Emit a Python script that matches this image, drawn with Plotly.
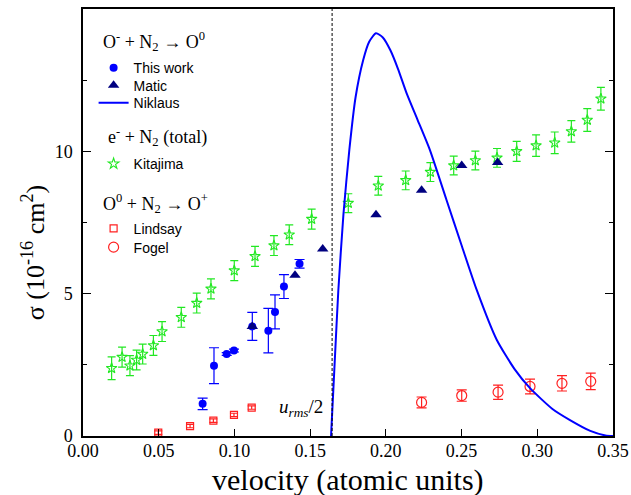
import plotly.graph_objects as go

# ---------------- data ----------------
kit_x = [0.0189, 0.0258, 0.031, 0.0354, 0.0394, 0.0465, 0.0522, 0.0649, 0.0751, 0.0845,
         0.0999, 0.1136, 0.1261, 0.1362, 0.151, 0.1752, 0.195, 0.2131, 0.2294, 0.2448,
         0.2591, 0.2734, 0.2864, 0.2992, 0.3115, 0.3225, 0.333, 0.342]
kit_y = [2.38, 2.77, 2.47, 2.67, 2.88, 3.18, 3.67, 4.17, 4.67, 5.17,
         5.81, 6.31, 6.69, 7.07, 7.62, 8.18, 8.79, 8.98, 9.27, 9.50,
         9.68, 9.77, 10.0, 10.2, 10.3, 10.7, 11.1, 11.85]
kit_err = [0.4, 0.35, 0.35, 0.35, 0.35, 0.35, 0.35, 0.35, 0.35, 0.35,
           0.35, 0.35, 0.35, 0.35, 0.35, 0.33, 0.33, 0.33, 0.33, 0.33,
           0.33, 0.33, 0.35, 0.38, 0.38, 0.38, 0.4, 0.4]

work_x = [0.0790, 0.0865, 0.0949, 0.0997, 0.1118, 0.1224, 0.1268, 0.1327, 0.1430]
work_y = [1.13, 2.47, 2.88, 3.00, 3.85, 3.70, 4.36, 5.25, 6.05]
work_err = [0.2, 0.63, 0.05, 0.05, 0.49, 0.78, 0.6, 0.42, 0.15]

matic_x = [0.1118, 0.1400, 0.1583, 0.1935, 0.2236, 0.2501, 0.2738]
matic_y = [3.85, 5.65, 6.57, 7.77, 8.63, 9.50, 9.61]

nik_x = [0.1638, 0.1665, 0.1686, 0.172, 0.1759, 0.180, 0.185, 0.189, 0.1935, 0.198,
         0.203, 0.208, 0.214, 0.221, 0.229, 0.240, 0.250, 0.260, 0.2732, 0.285,
         0.2952, 0.310, 0.3216, 0.335, 0.345, 0.350]
nik_y = [0.0, 2.9, 5.1, 7.8, 10.06, 11.9, 13.2, 13.85, 14.15, 14.0,
         13.55, 12.9, 12.0, 11.1, 10.06, 8.3, 6.7, 5.13, 3.38, 2.35,
         1.68, 0.95, 0.56, 0.18, 0.02, 0.0]

lind_x = [0.0497, 0.0707, 0.0861, 0.0997, 0.1114]
lind_y = [0.12, 0.35, 0.54, 0.74, 1.00]
lind_err = [0.06, 0.06, 0.06, 0.06, 0.06]

fog_x = [0.2236, 0.2501, 0.2741, 0.2952, 0.3163, 0.3353]
fog_y = [1.18, 1.42, 1.54, 1.74, 1.85, 1.92]
fog_err = [0.19, 0.2, 0.25, 0.26, 0.27, 0.29]

urms_half = 0.1645
x_ticks = [0.00, 0.05, 0.10, 0.15, 0.20, 0.25, 0.30, 0.35]
y_ticks = [0, 5, 10]
y_minor = [2.5, 7.5, 12.5]

group_titles = ["O<sup>-</sup> + N<sub>2</sub> → O<sup>0</sup>",
                "e<sup>-</sup> + N<sub>2</sub> (total)",
                "O<sup>0</sup> + N<sub>2</sub> → O<sup>+</sup>"]

SERIF = "Liberation Serif"
SANS = "Liberation Sans"
GREEN = "#22e822"
BLUE = "#0000ff"
NAVY = "#000080"
RED = "#ff2020"

fig = go.Figure()

fig.add_trace(go.Scatter(
    x=kit_x, y=kit_y, mode="markers", name="Kitajima", legend="legend4",
    marker=dict(symbol="star-open", size=8, color=GREEN, line=dict(width=1.1, color=GREEN)),
    error_y=dict(type="data", array=kit_err, color=GREEN, thickness=1.2, width=4)))

fig.add_trace(go.Scatter(
    x=lind_x, y=lind_y, mode="markers", name="Lindsay", legend="legend5",
    marker=dict(symbol="square-open", size=7, color=RED, line=dict(width=1.2, color=RED)),
    error_y=dict(type="data", array=lind_err, color=RED, thickness=1.2, width=4)))

fig.add_trace(go.Scatter(
    x=fog_x, y=fog_y, mode="markers", name="Fogel", legend="legend6",
    marker=dict(symbol="circle-open", size=10, color=RED, line=dict(width=1.2, color=RED)),
    error_y=dict(type="data", array=fog_err, color=RED, thickness=1.2, width=5)))

fig.add_trace(go.Scatter(
    x=work_x, y=work_y, mode="markers", name="This work", legend="legend",
    marker=dict(symbol="circle", size=8, color=BLUE),
    error_y=dict(type="data", array=work_err, color=BLUE, thickness=1.2, width=5)))

fig.add_trace(go.Scatter(
    x=matic_x, y=matic_y, mode="markers", name="Matic", legend="legend2",
    marker=dict(symbol="triangle-up", size=10, color=NAVY)))

fig.add_trace(go.Scatter(
    x=nik_x, y=nik_y, mode="lines", name="Niklaus", legend="legend3",
    line=dict(color=BLUE, width=2, shape="spline", smoothing=0.6)))

# dashed u_rms/2 line
fig.add_shape(type="line", x0=urms_half, x1=urms_half, y0=0, y1=1, yref="paper",
              line=dict(color="black", width=1, dash="3px,2px"))

fig.add_annotation(x=urms_half - 0.005, y=1.0, xref="x", yref="y",
                   text="<i>u<sub>rms</sub></i>/2", showarrow=False,
                   xanchor="right", yanchor="middle",
                   font=dict(family=SERIF, size=19, color="black"))

# group headers
for txt, (hx, hy) in zip(group_titles, [(0.034, 0.925), (0.043, 0.702), (0.034, 0.544)]):
    fig.add_annotation(x=hx, y=hy, xref="paper", yref="paper", text=txt,
                       showarrow=False, xanchor="left", yanchor="middle",
                       font=dict(family=SERIF, size=18, color="black"))

# axis titles as annotations
fig.add_annotation(x=-0.0943, y=0.428, xref="paper", yref="paper",
                   text="σ (10<sup>-16</sup> cm<sup>2</sup>)", showarrow=False,
                   textangle=-90, xanchor="center", yanchor="middle",
                   font=dict(family=SERIF, size=26, color="black"))
fig.add_annotation(x=0.5, y=-0.104, xref="paper", yref="paper",
                   text="velocity (atomic units)", showarrow=False,
                   xanchor="center", yanchor="middle",
                   font=dict(family=SERIF, size=30, color="black"))

def leg(y):
    return dict(x=0.02, y=y, xanchor="left", yanchor="middle",
                bgcolor="rgba(0,0,0,0)", borderwidth=0,
                font=dict(family=SANS, size=14, color="black"),
                itemwidth=30)

fig.update_layout(
    width=631, height=495,
    margin=dict(l=83, r=18, t=9, b=59, autoexpand=False),
    paper_bgcolor="white", plot_bgcolor="white",
    showlegend=True,
    legend=leg(0.8617), legend2=leg(0.8202), legend3=leg(0.7797),
    legend4=leg(0.6367), legend5=leg(0.4851), legend6=leg(0.4413),
    xaxis=dict(range=[0, 0.35], tickvals=x_ticks, tickformat=".2f", automargin=False,
               ticks="inside", ticklen=7, tickwidth=1.2, tickcolor="black",
               showline=True, linecolor="black", linewidth=1.5, mirror=True,
               showgrid=False, zeroline=False, ticklabelstandoff=-2,
               tickfont=dict(family=SERIF, size=18, color="black")),
    yaxis=dict(range=[0, 15], tickvals=y_ticks, automargin=False,
               ticks="inside", ticklen=8, tickwidth=1.2, tickcolor="black",
               showline=True, linecolor="black", linewidth=1.5, mirror="ticks",
               showgrid=False, zeroline=False, ticklabelstandoff=5,
               tickfont=dict(family=SERIF, size=18, color="black"),
               minor=dict(tickvals=y_minor, ticks="inside", ticklen=4,
                          tickcolor="black", tickwidth=1.2, showgrid=False)),
)

fig.write_html("out.html", config={"displayModeBar": False},
               post_script="document.body.style.margin='0';document.body.style.padding='0';")
